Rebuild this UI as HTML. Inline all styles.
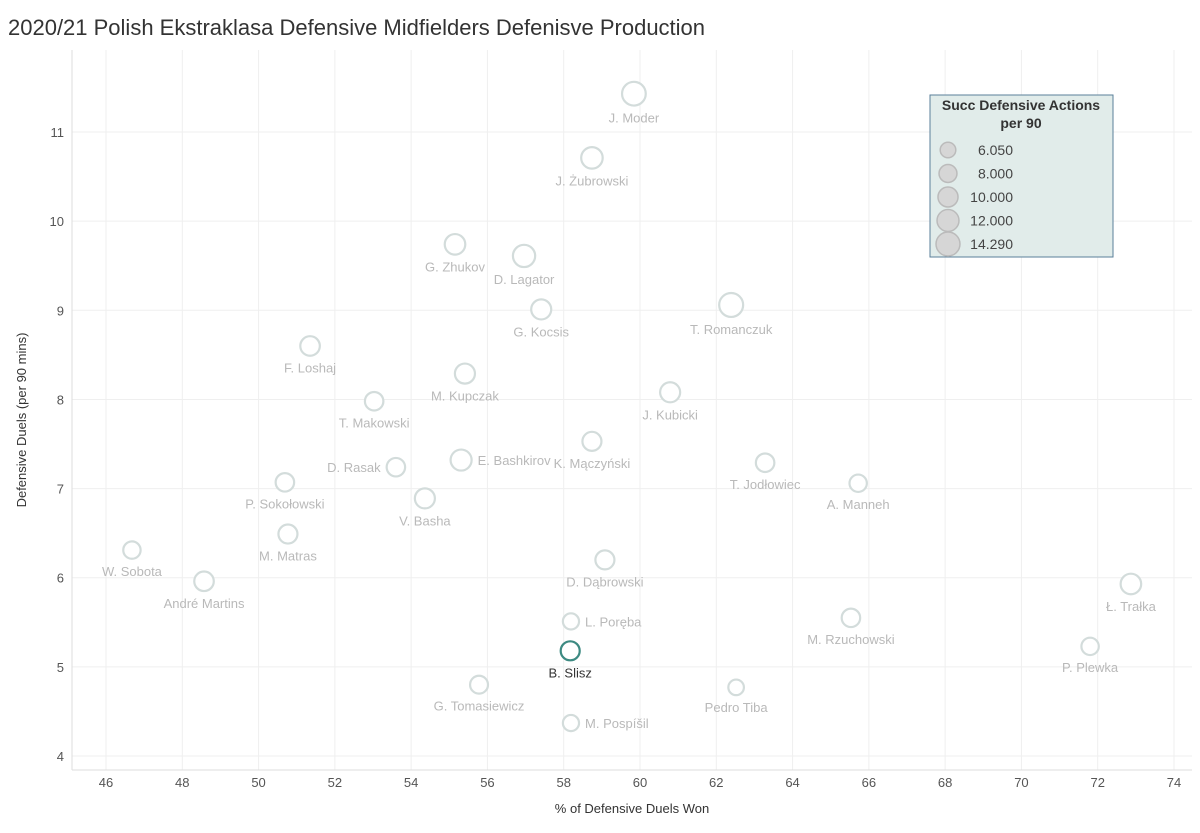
<!DOCTYPE html>
<html><head><meta charset="utf-8"><style>
body{margin:0;background:#fff;font-family:"Liberation Sans",sans-serif}
svg text{font-family:"Liberation Sans","DejaVu Sans",sans-serif}
</style></head><body>
<svg id="c" width="1200" height="828">
<text x="8" y="35" font-size="22" fill="#333">2020/21 Polish Ekstraklasa Defensive Midfielders Defenisve Production</text>
<g id="grid"></g><g id="axes"></g><g id="pts"></g>
<text x="632" y="813" font-size="13" fill="#333" text-anchor="middle">% of Defensive Duels Won</text>
<text transform="translate(26,420) rotate(-90)" font-size="13" fill="#333" text-anchor="middle">Defensive Duels (per 90 mins)</text>
<g id="legend">
<rect x="930" y="95" width="183" height="162" fill="#e1ecea" stroke="#5a7f9a" stroke-width="1"/>
<text x="1021" y="110" font-size="14" fill="#333" text-anchor="middle" font-weight="bold">Succ Defensive Actions</text>
<text x="1021" y="128" font-size="14" fill="#333" text-anchor="middle" font-weight="bold">per 90</text>
</g>
</svg>
<script>
const names=["J. Moder","J. Żubrowski","G. Zhukov","D. Lagator","G. Kocsis","T. Romanczuk","F. Loshaj","M. Kupczak","J. Kubicki","T. Makowski","K. Mączyński","E. Bashkirov","D. Rasak","T. Jodłowiec","A. Manneh","P. Sokołowski","V. Basha","M. Matras","W. Sobota","André Martins","D. Dąbrowski","Ł. Trałka","L. Poręba","M. Rzuchowski","B. Slisz","P. Plewka","G. Tomasiewicz","Pedro Tiba","M. Pospíšil"];
const duelsWon=[59.84,58.74,55.15,56.96,57.41,62.39,51.35,55.41,60.79,53.03,58.74,55.31,53.6,63.28,65.72,50.69,54.36,50.77,46.68,48.57,59.08,72.87,58.19,65.53,58.17,71.8,55.78,62.52,58.19];
const duelsP90=[11.43,10.71,9.74,9.61,9.01,9.06,8.6,8.29,8.08,7.98,7.53,7.32,7.24,7.29,7.06,7.07,6.89,6.49,6.31,5.96,6.2,5.93,5.51,5.55,5.18,5.23,4.8,4.77,4.37];
const succActions=[14.0,11.5,10.5,12.3,10.0,14.29,9.5,10.0,10.0,8.5,9.0,11.0,8.5,8.5,7.5,8.5,10.0,9.0,7.5,9.5,9.0,10.5,6.5,8.5,9.0,7.5,8.0,6.05,6.5];
const labelSide=["b","b","b","b","b","b","b","b","b","b","b","r","l","b","b","b","b","b","b","b","b","b","r","b","b","b","b","b","r"];
const xTicks=[46,48,50,52,54,56,58,60,62,64,66,68,70,72,74];
const yTicks=[4,5,6,7,8,9,10,11];
const legendVals=[6.05,8,10,12,14.29];
const legendLabels=["6.050","8.000","10.000","12.000","14.290"];
const NS="http://www.w3.org/2000/svg";
const X=v=>106+(v-46)*38.143, Y=v=>756-(v-4)*89.14, R=v=>Math.sqrt(v)*3.17;
function mk(tag,at,parent,txt){const e=document.createElementNS(NS,tag);for(const k in at)e.setAttribute(k,at[k]);if(txt!==undefined)e.textContent=txt;parent.appendChild(e);return e;}
const grid=document.getElementById('grid'),axes=document.getElementById('axes'),pts=document.getElementById('pts'),lg=document.getElementById('legend');
mk('line',{x1:72,x2:1192,y1:770,y2:770,stroke:'#ddd'},axes);
mk('line',{x1:72,x2:72,y1:50,y2:770,stroke:'#ddd'},axes);
xTicks.forEach(t=>{mk('line',{x1:X(t),x2:X(t),y1:50,y2:770,stroke:'#efefef'},grid);
const e=mk('text',{x:X(t),y:787,'font-size':13,fill:'#555','text-anchor':'middle'},axes,String(t));

});
yTicks.forEach(t=>{mk('line',{x1:72,x2:1192,y1:Y(t),y2:Y(t),stroke:'#efefef'},grid);
const e=mk('text',{x:64,y:Y(t)+5,'font-size':13,fill:'#555','text-anchor':'end'},axes,String(t));

});
names.forEach((n,i)=>{const cx=X(duelsWon[i]),cy=Y(duelsP90[i]),r=R(succActions[i]);const hi=n==="B. Slisz";
const g=mk('g',{},pts);


mk('circle',{cx,cy,r,fill:'#fff',stroke:hi?'#3d8a82':'#d3dcdb','stroke-width':2.2},g);
let tx=cx,ty=cy+r+17,an='middle';
if(labelSide[i]==='r'){tx=cx+r+6;ty=cy+5;an='start';}
if(labelSide[i]==='l'){tx=cx-r-6;ty=cy+5;an='end';}
mk('text',{x:tx,y:ty,'font-size':13,fill:hi?'#333':'#b9b9b9','text-anchor':an},g,n);});
legendVals.forEach((v,i)=>{const cy=150+i*23.5;
mk('circle',{cx:948,cy,r:R(v),fill:'#d6d6d6',stroke:'#bbb','stroke-width':1.5},lg);
mk('text',{x:1013,y:cy+5,'font-size':14,fill:'#444','text-anchor':'end'},lg,legendLabels[i]);});
</script>
</body></html>
